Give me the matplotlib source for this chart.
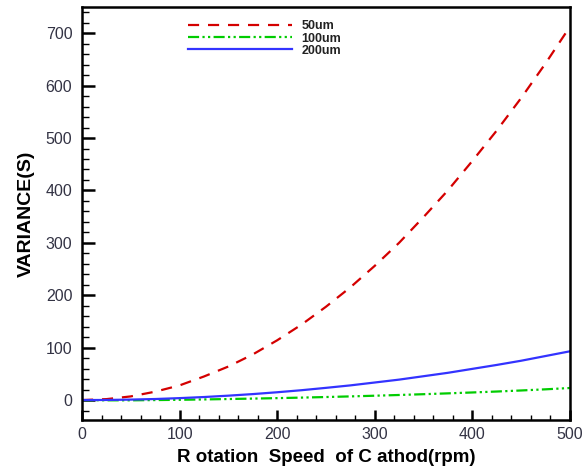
import numpy as np
import matplotlib.pyplot as plt
from matplotlib.ticker import MultipleLocator

# Rotation speed (rpm) and variance for each particle size
speed = [0, 25, 50, 75, 100, 125, 150, 175, 200, 225, 250,
         275, 300, 325, 350, 375, 400, 425, 450, 475, 500]
var_50um = [0, 1.8, 7, 16, 28, 45, 64, 87, 114, 144, 178,
            215, 256, 300, 349, 400, 456, 514, 576, 642, 712]
var_100um = [0, -0.5, -0.5, 0, 0.5, 1.2, 2, 2.8, 3.7, 4.7, 5.8,
             7, 8.3, 9.7, 11.2, 12.8, 14.5, 16.3, 18.3, 20.5, 23]
var_200um = [0, 0.2, 0.9, 2, 3.7, 5.8, 8.4, 11.4, 14.9, 18.8, 23.3,
             28, 33.5, 39, 45.5, 52, 59.5, 67, 75, 84, 93]

plt.rcParams["font.family"] = ["Liberation Sans", "DejaVu Sans"]

fig = plt.figure(figsize=(5.88, 4.68), dpi=100)
ax = fig.add_axes([0.1395, 0.1026, 0.8295, 0.8824])

ax.plot(speed, var_50um, color="#d40000", lw=1.6, dashes=(5, 4), label="50um")
ax.plot(speed, var_100um, color="#00cc00", lw=1.6,
        dashes=(5, 1.5, 1, 1.5, 1, 1.5), label="100um")
ax.plot(speed, var_200um, color="#3333ff", lw=1.6, label="200um")

ax.set_xlim(0, 500)
ax.set_ylim(-38, 750)
ax.xaxis.set_major_locator(MultipleLocator(100))
ax.xaxis.set_minor_locator(MultipleLocator(20))
ax.yaxis.set_major_locator(MultipleLocator(100))
ax.yaxis.set_minor_locator(MultipleLocator(20))

for s in ax.spines.values():
    s.set_linewidth(1.8)
ax.tick_params(which="both", direction="in", top=False, right=False,
               labelsize=11.5, labelcolor="#333344")
ax.tick_params(axis="y", which="major", length=9, width=1.8, pad=7)
ax.tick_params(axis="y", which="minor", length=5, width=1)
ax.tick_params(axis="x", which="major", length=7, width=1.8, pad=5)
ax.tick_params(axis="x", which="minor", length=3.5, width=1)

ax.set_xlabel("R otation  Speed  of C athod(rpm)", fontsize=13.5,
              fontweight="bold", labelpad=5)
ax.set_ylabel("VARIANCE(S)", fontsize=14, fontweight="bold", labelpad=8)

leg = ax.legend(loc="upper left", bbox_to_anchor=(0.195, 0.995), frameon=False,
                handlelength=8.3, fontsize=9, labelspacing=0.02,
                handletextpad=0.75)
for t in leg.get_texts():
    t.set_fontweight("bold")
    t.set_color("#222222")

fig.savefig("out.png", dpi=100)
